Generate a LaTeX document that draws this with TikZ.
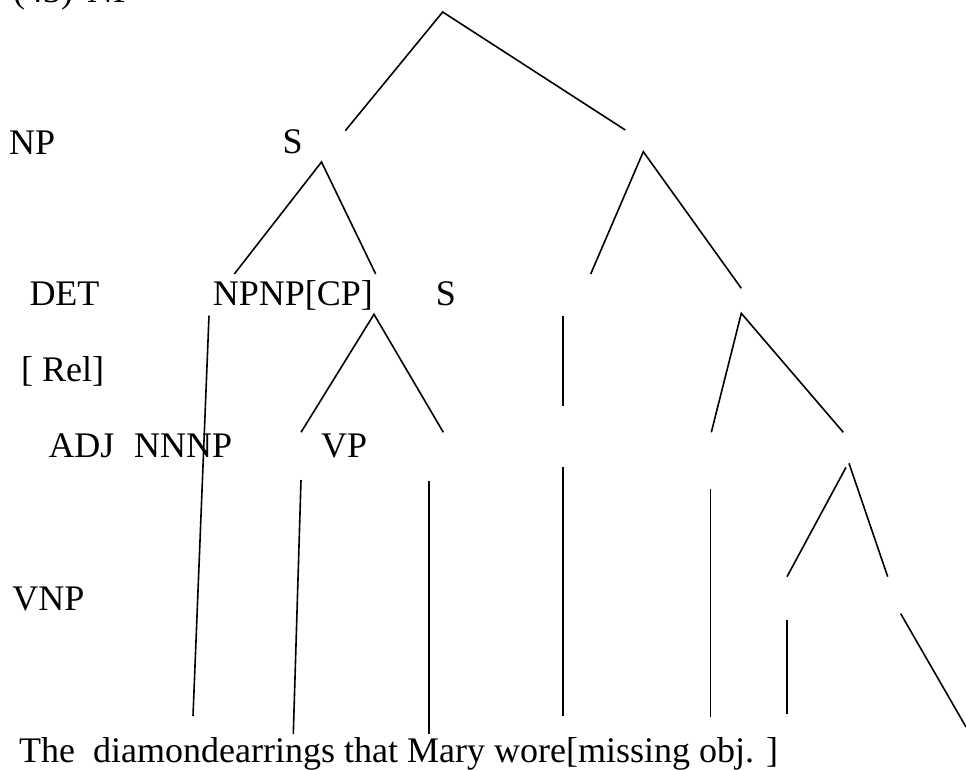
\documentclass[tikz,border=0pt]{standalone}
\usepackage{fontspec}
\setmainfont{Liberation Serif}
\begin{document}
\begin{tikzpicture}[x=1pt,y=-1pt,
  lbl/.style={anchor=base west,inner sep=0pt,font=\fontsize{36}{40}\selectfont},
  edge/.style={line width=1.6pt}]
\useasboundingbox (0,0) rectangle (966,769);
% labels
\node[lbl] (ex)   at (13,2)      {(43)\hspace{14pt}NP};
\node[lbl] (np1)  at (9,154)     {NP};
\node[lbl] (s1)   at (282.5,153.5) {S};
\node[lbl] (det)  at (29.3,305.7) {DET};
\node[lbl] (npcp) at (212.7,305.7) {NPNP[CP]};
\node[lbl] (s2)   at (435.7,305.7) {S};
\node[lbl] (rel)  at (21,381)    {[ Rel]};
\node[lbl] (adj)  at (48.3,457)  {ADJ};
\node[lbl] (nnnp) at (134,457)   {NNNP};
\node[lbl] (vp)   at (321,457)   {VP};
\node[lbl] (vnp)  at (12.3,610)  {VNP};
\node[lbl] (sent) at (19,762.3)  {The\hspace{18pt}diamondearrings that Mary wore[missing obj. ]};
% connector end points
\coordinate (a0) at (442.7,12);
\coordinate (a1) at (345.3,130.7);
\coordinate (a2) at (625.3,130);
\coordinate (b0) at (321.5,162);
\coordinate (b1) at (234.3,274);
\coordinate (b2) at (375.7,274);
\coordinate (c0) at (643.3,151.7);
\coordinate (c1) at (590.7,274);
\coordinate (c2) at (741.3,288.3);
\coordinate (d0) at (374,314.3);
\coordinate (d1) at (301,432.3);
\coordinate (d2) at (443.3,432.3);
\coordinate (e0) at (741.3,313.3);
\coordinate (e1) at (711.3,432.3);
\coordinate (e2) at (843.3,432.3);
\coordinate (f0) at (563,315.7);
\coordinate (f1) at (563,405.7);
\coordinate (g0) at (209,315.7);
\coordinate (g1) at (193,716);
\coordinate (h0) at (301,480);
\coordinate (h1) at (293.3,734);
\coordinate (i0) at (429,481);
\coordinate (i1) at (429,734);
\coordinate (j0) at (563,467.3);
\coordinate (j1) at (563,716);
\coordinate (k0) at (710.3,489.3);
\coordinate (k1) at (710.3,716.7);
\coordinate (l0) at (846,467.3);
\coordinate (l1) at (787,576.7);
\coordinate (m0) at (849,463.3);
\coordinate (m1) at (887.7,576.7);
\coordinate (n0) at (787,619.7);
\coordinate (n1) at (787,714.3);
\coordinate (o0) at (900.7,613.7);
\coordinate (o1) at (966,727);
% connectors
\draw[edge] (a1) -- (a0) -- (a2);
\draw[edge] (b1) -- (b0) -- (b2);
\draw[edge] (c1) -- (c0) -- (c2);
\draw[edge] (d1) -- (d0) -- (d2);
\draw[edge] (e1) -- (e0) -- (e2);
\draw[edge] (f0) -- (f1);
\draw[edge] (g0) -- (g1);
\draw[edge] (h0) -- (h1);
\draw[edge] (i0) -- (i1);
\draw[edge] (j0) -- (j1);
\draw[edge] (k0) -- (k1);
\draw[edge] (l0) -- (l1);
\draw[edge] (m0) -- (m1);
\draw[edge] (n0) -- (n1);
\draw[edge] (o0) -- (o1);
\end{tikzpicture}
\end{document}
